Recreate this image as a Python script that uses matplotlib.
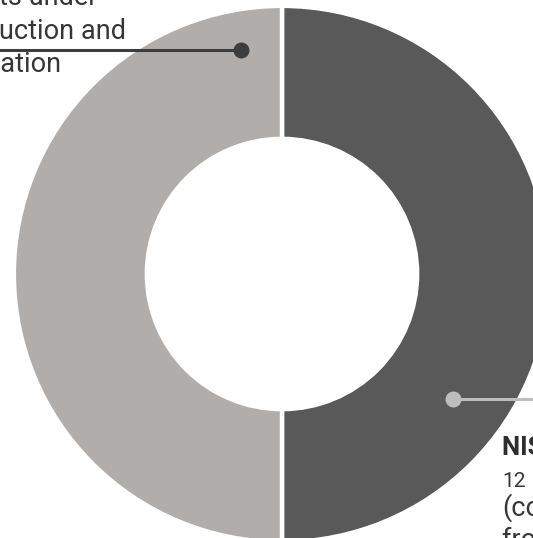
import matplotlib
matplotlib.use("Agg")
import matplotlib.pyplot as plt

# two equal halves of the ring
labels = ["NIS", "Projects under construction and preparation"]
values = [12, 12]
colors = ["#595959", "#b0adab"]

W, H = 533, 538
cx, cy, R = 282, 274, 266  # ring centre / outer radius in pixels


def px(x, y):
    # pixel position -> data coordinates (radius 1 = R pixels)
    return (x - cx) / R, (cy - y) / R


fig = plt.figure(figsize=(W / 100, H / 100), dpi=100)
ax = fig.add_axes([0, 0, 1, 1])

ax.pie(values, colors=colors, startangle=90, counterclock=False,
       radius=1.008,
       wedgeprops=dict(width=0.50, edgecolor="white", linewidth=3.2))

ax.set_xlim(-cx / R, (W - cx) / R)
ax.set_ylim(-(H - cy) / R, cy / R)
ax.set_aspect("auto")
ax.axis("off")

plt.rcParams["font.family"] = ["Roboto", "DejaVu Sans"]
txt = "#363636"

# left label with leader line and dot
x0, y0 = px(0, 50)
x1, y1 = px(241, 50)
ax.plot([x0 - 0.1, x1], [y0, y1], color="#3d3d3d", lw=2.2, solid_capstyle="butt")
ax.plot(x1, y1, "o", ms=11.5, color="#3d3d3d", mec="none")

left_lines = ["Projects under", "construction and", "preparation"]
for line, base in zip(left_lines, [5, 39, 72]):
    tx, ty = px(-78, base)
    ax.text(tx, ty, line, fontsize=19.5, color=txt, ha="left", va="baseline")

# right label with leader line and dot
x2, y2 = px(453, 399)
x3, _ = px(W, 399)
ax.plot([x2, x3 + 0.1], [y2, y2], color="#bdbdbd", lw=2.2, solid_capstyle="butt")
ax.plot(x2, y2, "o", ms=11.5, color="#bdbdbd", mec="none")

tx, ty = px(502, 455)
ax.text(tx, ty, "NIS sites", fontsize=18.5, fontweight="bold", color="#2e2e2e",
        ha="left", va="baseline")
tx, ty = px(502, 487)
ax.text(tx, ty, str(values[0]), fontsize=15, color=txt, ha="left", va="baseline")
tx, ty = px(502, 516)
ax.text(tx, ty, "(completed", fontsize=19.5, color=txt, ha="left", va="baseline")
tx, ty = px(502, 548)
ax.text(tx, ty, "from 2015)", fontsize=19.5, color=txt, ha="left", va="baseline")

fig.savefig("out.png", dpi=100)
